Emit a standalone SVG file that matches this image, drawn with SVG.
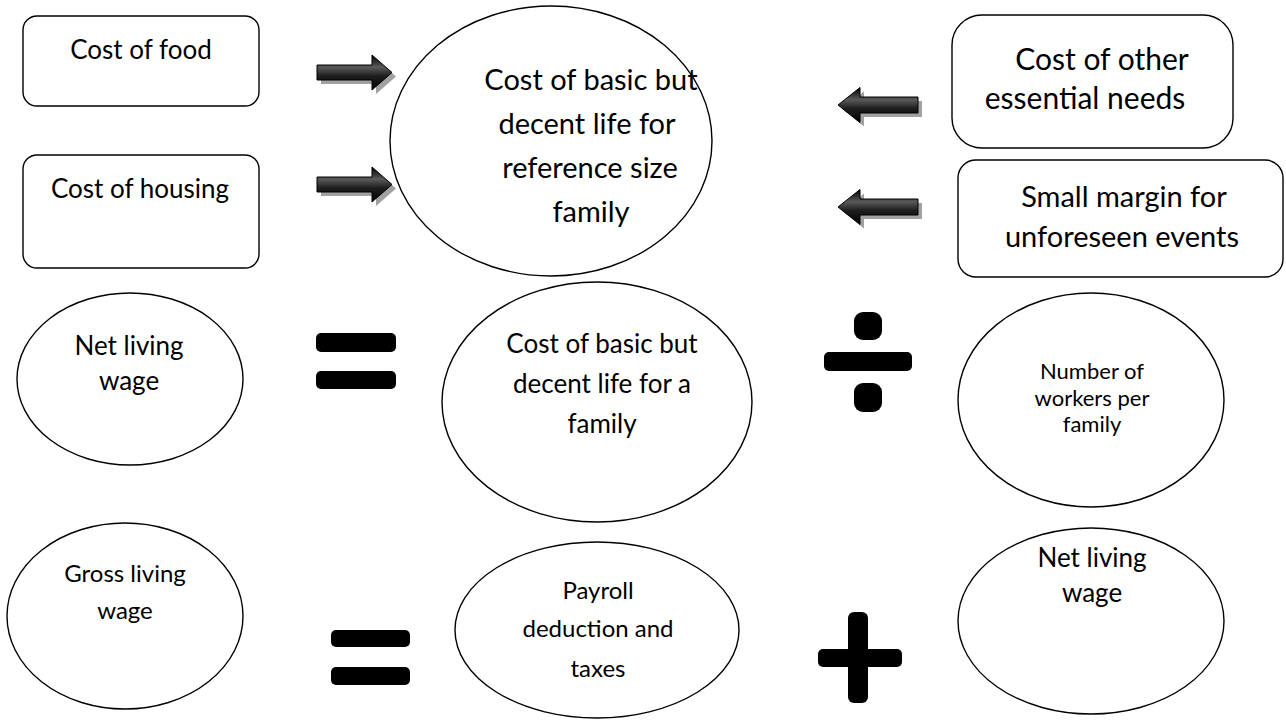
<svg xmlns="http://www.w3.org/2000/svg" width="1286" height="727" viewBox="0 0 1286 727">
<defs>
<style>
.box{fill:#fff;stroke:#000;stroke-width:1.4}
.t{font-family:Lato,"Open Sans",sans-serif;fill:#000;text-anchor:middle}
.sym{fill:#000}
.shadow{fill:#8a8a8a;opacity:0.8}
.arrow{fill:url(#ag);stroke:#000;stroke-width:1}
</style>
<linearGradient id="ag" x1="0" y1="0" x2="0" y2="1">
<stop offset="0" stop-color="#000"/>
<stop offset="0.35" stop-color="#5a5a5a"/>
<stop offset="0.6" stop-color="#1e1e1e"/>
<stop offset="1" stop-color="#000"/>
</linearGradient>
<path id="ra" d="M0,-7.5 H55 V-17.5 L75,0 L55,17.5 V7.5 H0 Z"/>
<path id="la" d="M0,0 L22,-17.5 V-8 H80 V8 H22 V17.5 Z"/>
</defs>

<g id="food">
<rect class="box" x="23" y="16" width="236" height="90" rx="14"/>
<text class="t" x="141" y="59" font-size="26">Cost of food</text>
</g>
<g id="housing">
<rect class="box" x="23" y="155" width="236" height="113" rx="14"/>
<text class="t" x="140" y="198" font-size="26">Cost of housing</text>
</g>
<g id="basic-ref">
<ellipse class="box" cx="551" cy="141" rx="161" ry="135"/>
<text class="t" font-size="29"><tspan x="591" y="90">Cost of basic but</tspan><tspan x="587" y="134">decent life for</tspan><tspan x="590" y="178">reference size</tspan><tspan x="591" y="222">family</tspan></text>
</g>
<g id="other">
<rect class="box" x="952" y="15" width="281" height="133" rx="30"/>
<text class="t" font-size="30"><tspan x="1102" y="70">Cost of other</tspan><tspan x="1085" y="109">essential needs</tspan></text>
</g>
<g id="margin">
<rect class="box" x="958" y="160" width="325" height="117" rx="18"/>
<text class="t" font-size="29"><tspan x="1124" y="207">Small margin for</tspan><tspan x="1122" y="247">unforeseen events</tspan></text>
</g>

<g id="connectors">
<use href="#ra" x="321" y="76.5" class="shadow"/>
<use href="#ra" x="317" y="72.5" class="arrow"/>
<use href="#ra" x="321" y="188.5" class="shadow"/>
<use href="#ra" x="317" y="184.5" class="arrow"/>
<use href="#la" x="842" y="109" class="shadow"/>
<use href="#la" x="838" y="105" class="arrow"/>
<use href="#la" x="842" y="211" class="shadow"/>
<use href="#la" x="838" y="207" class="arrow"/>
</g>

<g id="net1">
<ellipse class="box" cx="130" cy="379" rx="113" ry="86"/>
<text class="t" font-size="26"><tspan x="129" y="355">Net living</tspan><tspan x="129" y="390">wage</tspan></text>
</g>
<g id="eq1">
<rect class="sym" x="316" y="333" width="80" height="19" rx="5"/>
<rect class="sym" x="316" y="371" width="80" height="18" rx="5"/>
</g>
<g id="basic-family">
<ellipse class="box" cx="597" cy="402" rx="155" ry="120"/>
<text class="t" font-size="26"><tspan x="602" y="353">Cost of basic but</tspan><tspan x="602" y="393">decent life for a</tspan><tspan x="602" y="433">family</tspan></text>
</g>
<g id="div">
<rect class="sym" x="854" y="312" width="28" height="28" rx="9"/>
<rect class="sym" x="824" y="352" width="88" height="19" rx="5"/>
<rect class="sym" x="854" y="383" width="28" height="29" rx="9"/>
</g>
<g id="workers">
<ellipse class="box" cx="1091" cy="400" rx="133" ry="107"/>
<text class="t" font-size="22"><tspan x="1092" y="379">Number of</tspan><tspan x="1092" y="406">workers per</tspan><tspan x="1092" y="432">family</tspan></text>
</g>

<g id="gross">
<ellipse class="box" cx="125" cy="616" rx="118" ry="93"/>
<text class="t" font-size="24"><tspan x="125" y="582">Gross living</tspan><tspan x="125" y="619">wage</tspan></text>
</g>
<g id="eq2">
<rect class="sym" x="331" y="630" width="79" height="17" rx="5"/>
<rect class="sym" x="331" y="667" width="79" height="18" rx="5"/>
</g>
<g id="payroll">
<ellipse class="box" cx="597" cy="630" rx="142" ry="88"/>
<text class="t" font-size="24"><tspan x="598" y="599">Payroll</tspan><tspan x="598" y="637">deduction and</tspan><tspan x="598" y="677">taxes</tspan></text>
</g>
<g id="plus">
<rect class="sym" x="848" y="612" width="20" height="91" rx="6"/>
<rect class="sym" x="818" y="649" width="84" height="18" rx="5"/>
</g>
<g id="net2">
<ellipse class="box" cx="1091" cy="621" rx="133" ry="93"/>
<text class="t" font-size="26"><tspan x="1092" y="567">Net living</tspan><tspan x="1092" y="602">wage</tspan></text>
</g>
</svg>
